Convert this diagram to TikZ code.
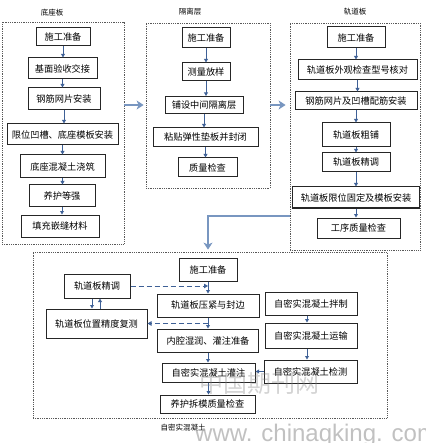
\documentclass[tikz,border=0pt]{standalone}
\usepackage{fontspec}
\newfontfamily\cjk{Noto Sans CJK SC}
\newfontfamily\wmfont{Liberation Sans}
\usepackage{tikz}
\usetikzlibrary{arrows.meta,positioning,calc}
\usepackage{xcolor}
\definecolor{flowblue}{RGB}{62,96,150}
\definecolor{pipeblue}{RGB}{120,150,192}

\begin{document}
\begin{tikzpicture}[x=1pt,y=-1pt,
    box/.style={draw=black!85,line width=1pt,inner sep=0pt,font=\cjk\fontsize{9.2}{10}\selectfont},
    grp/.style={draw=black!65,densely dotted,line width=0.8pt,inner sep=0pt},
    grplabel/.style={font=\cjk\fontsize{7.5}{9}\selectfont},
    flow/.style={flowblue,line width=0.8pt,-{Triangle[length=3.5pt,width=3.8pt]}},
    dflow/.style={flowblue,line width=0.9pt,dash pattern=on 5pt off 3pt,-{Triangle[length=4pt,width=4.5pt]}},
    bigflow/.style={pipeblue,line width=2.4pt,-{Stealth[length=7pt,width=9pt,inset=2pt]}}]
                    \useasboundingbox (0,0) rectangle (425,443);
                    \node[grp,minimum width=122,minimum height=222] (dzBox) at (63,133) {};
                    \node[grplabel] at (52,13) {底座板};
                    \node[box,minimum width=54,minimum height=18] (dz1) at (63,37) {施工准备};
                    \node[box,minimum width=69,minimum height=21] (dz2) at (62.5,68.5) {基面验收交接};
                    \node[box,minimum width=72,minimum height=22] (dz3) at (64,99) {钢筋网片安装};
                    \node[box,minimum width=111,minimum height=21] (dz4) at (62.5,134.5) {限位凹槽、底座模板安装};
                    \node[box,minimum width=85,minimum height=23] (dz5) at (62.5,166.5) {底座混凝土浇筑};
                    \node[box,minimum width=66,minimum height=22] (dz6) at (62,196) {养护等强};
                    \node[box,minimum width=78,minimum height=22] (dz7) at (60,226) {填充嵌缝材料};
                    \foreach \a/\b in {dz1/dz2,dz2/dz3,dz3/dz4,dz4/dz5,dz5/dz6,dz6/dz7}
                        {\draw[flow] (\a.south) -- (\a.south |- \b.north);}

                    \node[grp,minimum width=124,minimum height=165] (glBox) at (208,105.5) {};
                    \node[grplabel] at (190,12) {隔离层};
                    \node[box,minimum width=48,minimum height=20] (gl1) at (206,38) {施工准备};
                    \node[box,minimum width=48,minimum height=18] (gl2) at (206,72) {测量放样};
                    \node[box,minimum width=78,minimum height=17] (gl3) at (204,105) {铺设中间隔离层};
                    \node[box,minimum width=105,minimum height=19] (gl4) at (205.5,137.5) {粘贴弹性垫板并封闭};
                    \node[box,minimum width=59,minimum height=19] (gl5) at (207.5,167.5) {质量检查};
                    \foreach \a/\b in {gl1/gl2,gl2/gl3,gl3/gl4,gl4/gl5}
                        {\draw[flow] (\a.south) -- (\a.south |- \b.north);}

                    \node[grp,minimum width=130,minimum height=227] (gdBox) at (355,136.5) {};
                    \node[grplabel] at (355,12) {轨道板};
                    \node[box,minimum width=58,minimum height=21] (gd1) at (356,37.5) {施工准备};
                    \node[box,minimum width=119,minimum height=20] (gd2) at (357.5,70) {轨道板外观检查型号核对};
                    \node[box,minimum width=122,minimum height=18] (gd3) at (356,101) {钢筋网片及凹槽配筋安装};
                    \node[box,minimum width=68,minimum height=24] (gd4) at (356,135) {轨道板粗铺};
                    \node[box,minimum width=68,minimum height=19] (gd5) at (356,162.5) {轨道板精调};
                    \node[box,minimum width=127,minimum height=21] (gd6) at (356,197.5) {轨道板限位固定及模板安装};
                    \node[box,minimum width=83,minimum height=20] (gd7) at (358.5,228) {工序质量检查};
                    \foreach \a/\b in {gd1/gd2,gd2/gd3,gd3/gd4,gd4/gd5,gd5/gd6,gd6/gd7}
                        {\draw[flow] (\a.south) -- (\a.south |- \b.north);}

                    \draw[bigflow,shorten >=2pt] (dzBox.east |- gl3) -- (glBox.west |- gl3);
                    \draw[bigflow,shorten >=4pt] (glBox.east |- gl3) -- (gdBox.west |- gl3);

                    \node[grp,minimum width=354,minimum height=166] (zmBox) at (210,335) {};
                    \node[grplabel] at (183,428) {自密实混凝土};
                    \node[box,minimum width=58,minimum height=23] (zm1) at (208,269.5) {施工准备};
                    \node[box,minimum width=102,minimum height=23] (zm2) at (208,305.5) {轨道板压紧与封边};
                    \node[box,minimum width=101,minimum height=23] (zm3) at (208,340.5) {内腔湿润、灌注准备};
                    \node[box,minimum width=93,minimum height=19] (zm4) at (208.5,372.5) {自密实混凝土灌注};
                    \node[box,minimum width=95,minimum height=18] (zm5) at (207.5,404) {养护拆模质量检查};
                    \foreach \a/\b in {zm1/zm2,zm2/zm3,zm3/zm4,zm4/zm5}
                        {\draw[flow] (\a.south) -- (\a.south |- \b.north);}
                    \node[box,minimum width=66,minimum height=24] (zmL1) at (97,286) {轨道板精调};
                    \node[box,minimum width=101,minimum height=29] (zmL2) at (96.5,323.5) {轨道板位置精度复测};
                    \draw[flow] ([xshift=-5pt]zmL1.south) -- ([xshift=-5pt]zmL1.south |- zmL2.north);
                    \draw[flow] ([xshift=3pt]zmL1.south |- zmL2.north) -- ([xshift=3pt]zmL1.south);
                    \draw[dflow] (zmL1.east) -- (zmL1.east -| zm1.south);
                    \draw[dflow] (zmL2.east -| zm1.south) -- (zmL2.east);
                    \node[box,minimum width=92,minimum height=23] (zmR1) at (311,303.5) {自密实混凝土拌制};
                    \node[box,minimum width=92,minimum height=25] (zmR2) at (311,335.5) {自密实混凝土运输};
                    \node[box,minimum width=93,minimum height=23] (zmR3) at (310.5,371.5) {自密实混凝土检测};
                    \foreach \a/\b in {zmR1/zmR2,zmR2/zmR3}
                        {\draw[flow] ([xshift=-4pt]\a.south) -- ([xshift=-4pt]\a.south |- \b.north);}
                    \draw[flow] (zmR3.west) -- (zmR3.west -| zm4.east);

                    \coordinate (gdOut) at (290,216);
                    \draw[bigflow,shorten >=2pt] (gdOut) -| (zmBox.north -| zm1);

                    \node[gray,opacity=0.35,font=\cjk\fontsize{24}{26}\selectfont] (wmA) at (259,383) {中国期刊网};
                    \node[gray!70,opacity=0.7,font=\wmfont\fontsize{24}{26}\selectfont,anchor=base west,inner sep=0pt] (wmB) at (195,441) {www. chinaqking. com};
                \end{tikzpicture}
\end{document}
